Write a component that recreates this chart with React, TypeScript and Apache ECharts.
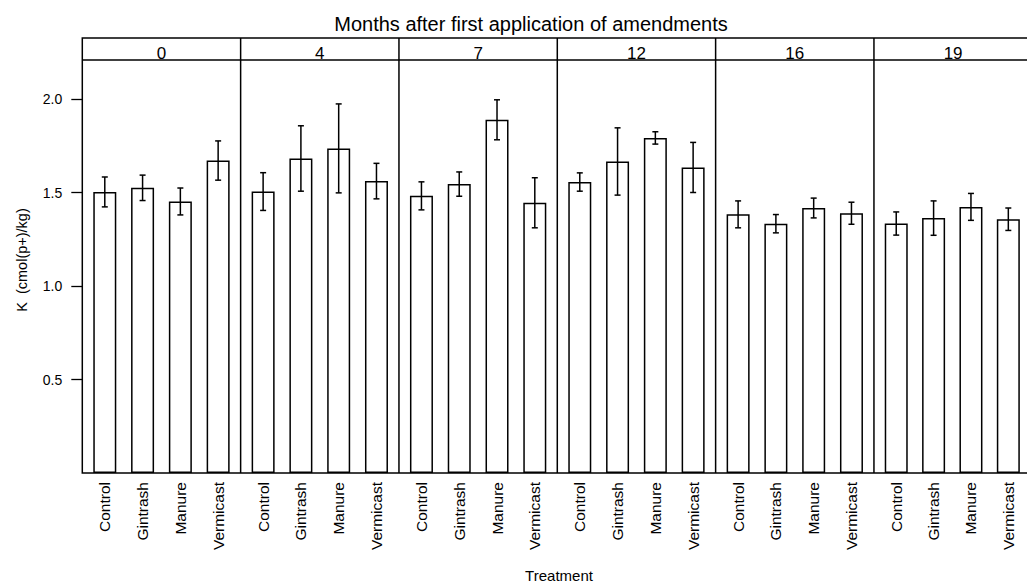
import React, { useEffect, useRef } from 'react';
import * as echarts from 'echarts';

// ---- data ----
const months = ['0', '4', '7', '12', '16', '19'];
const treatments = ['Control', 'Gintrash', 'Manure', 'Vermicast'];
// mean K (cmol(p+)/kg) per month panel, per treatment
const meanK0 = [1.504, 1.526, 1.453, 1.672];
const meanK4 = [1.506, 1.683, 1.737, 1.562];
const meanK7 = [1.483, 1.546, 1.890, 1.446];
const meanK12 = [1.557, 1.667, 1.793, 1.635];
const meanK16 = [1.384, 1.334, 1.418, 1.390];
const meanK19 = [1.335, 1.364, 1.424, 1.358];
// standard error (half-length of error bars)
const seK0 = [0.080, 0.068, 0.072, 0.105];
const seK4 = [0.101, 0.175, 0.238, 0.095];
const seK7 = [0.075, 0.065, 0.107, 0.134];
const seK12 = [0.049, 0.180, 0.033, 0.134];
const seK16 = [0.072, 0.049, 0.053, 0.059];
const seK19 = [0.062, 0.092, 0.072, 0.060];
const yTicks = [0.5, 1.0, 1.5, 2.0];
const yMax = 2.21;

const meansByMonth = [meanK0, meanK4, meanK7, meanK12, meanK16, meanK19];
const seByMonth = [seK0, seK4, seK7, seK12, seK16, seK19];

// ---- layout ----
const FRAME_LEFT = 82.3;
const PANEL_W = 158.33;
const FRAME_TOP = 38;
const STRIP_BOTTOM = 60;
const PLOT_BOTTOM = 473;
const INSET = 3.6;
const FONT = 'Liberation Sans, Arial, Helvetica, sans-serif';

export default function App() {
  const ref = useRef<HTMLDivElement>(null);

  useEffect(() => {
    if (!ref.current) return;
    const chart = echarts.init(ref.current, undefined, { renderer: 'svg' });

    const grids = months.map((_, i) => ({
      left: FRAME_LEFT + i * PANEL_W + INSET,
      width: PANEL_W - 2 * INSET,
      top: STRIP_BOTTOM,
      height: PLOT_BOTTOM - STRIP_BOTTOM,
      containLabel: false,
    }));

    const xAxes = months.map((_, i) => ({
      type: 'category',
      gridIndex: i,
      data: treatments,
      axisLine: { show: false },
      axisTick: { show: false },
      axisLabel: {
        rotate: 90,
        margin: 9,
        fontSize: 15.5,
        color: '#000',
        fontFamily: FONT,
        interval: 0,
      },
    }));

    const yAxes = months.map((_, i) => ({
      type: 'value',
      gridIndex: i,
      min: 0,
      max: yMax,
      show: i === 0,
      offset: INSET,
      axisLine: { show: false },
      splitLine: { show: false },
      axisTick: {
        show: i === 0,
        length: 11,
        customValues: yTicks,
        lineStyle: { color: '#000', width: 1.3 },
      },
      axisLabel: {
        show: i === 0,
        customValues: yTicks,
        formatter: (v: number) => v.toFixed(1),
        margin: 20,
        fontSize: 14,
        color: '#000',
        fontFamily: FONT,
      },
    }));

    const series: any[] = [];
    months.forEach((_, i) => {
      const means = meansByMonth[i];
      const ses = seByMonth[i];
      series.push({
        type: 'bar',
        xAxisIndex: i,
        yAxisIndex: i,
        data: means,
        barWidth: 23,
        itemStyle: { color: '#fff', borderColor: '#000', borderWidth: 1.5 },
        silent: true,
      });
      series.push({
        type: 'custom',
        xAxisIndex: i,
        yAxisIndex: i,
        data: means.map((m, j) => [j, m - ses[j], m + ses[j]]),
        encode: { x: 0, y: [1, 2] },
        z: 5,
        renderItem: (params: any, api: any) => {
          const x = api.value(0);
          const lo = api.coord([x, api.value(1)]);
          const hi = api.coord([x, api.value(2)]);
          const cw = 3;
          const style = { stroke: '#000', lineWidth: 1.5 };
          return {
            type: 'group',
            children: [
              { type: 'line', shape: { x1: lo[0], y1: lo[1], x2: hi[0], y2: hi[1] }, style },
              { type: 'line', shape: { x1: hi[0] - cw, y1: hi[1], x2: hi[0] + cw, y2: hi[1] }, style },
              { type: 'line', shape: { x1: lo[0] - cw, y1: lo[1], x2: lo[0] + cw, y2: lo[1] }, style },
            ],
          };
        },
      });
    });

    const frameW = months.length * PANEL_W;
    const lineStyle = { stroke: '#000', lineWidth: 1.5 };
    const graphics: any[] = [
      {
        type: 'rect',
        shape: { x: FRAME_LEFT, y: FRAME_TOP, width: frameW, height: PLOT_BOTTOM - FRAME_TOP },
        style: { fill: 'none', stroke: '#000', lineWidth: 1.5 },
        z: 10,
      },
      {
        type: 'line',
        shape: { x1: FRAME_LEFT, y1: STRIP_BOTTOM, x2: FRAME_LEFT + frameW, y2: STRIP_BOTTOM },
        style: lineStyle,
        z: 10,
      },
      {
        type: 'text',
        x: 531,
        y: 24,
        style: {
          text: 'Months after first application of amendments',
          fontSize: 20,
          fontFamily: FONT,
          fill: '#000',
          textAlign: 'center',
          textVerticalAlign: 'middle',
        },
      },
      {
        type: 'text',
        x: 22,
        y: 260,
        rotation: Math.PI / 2,
        style: {
          text: 'K  (cmol(p+)/kg)',
          fontSize: 14.5,
          fontFamily: FONT,
          fill: '#000',
          textAlign: 'center',
          textVerticalAlign: 'middle',
        },
      },
      {
        type: 'text',
        x: 559,
        y: 575,
        style: {
          text: 'Treatment',
          fontSize: 15,
          fontFamily: FONT,
          fill: '#000',
          textAlign: 'center',
          textVerticalAlign: 'middle',
        },
      },
    ];
    months.forEach((m, i) => {
      const left = FRAME_LEFT + i * PANEL_W;
      if (i > 0) {
        graphics.push({
          type: 'line',
          shape: { x1: left, y1: FRAME_TOP, x2: left, y2: PLOT_BOTTOM },
          style: lineStyle,
          z: 10,
        });
      }
      graphics.push({
        type: 'text',
        x: left + PANEL_W / 2,
        y: 53.5,
        style: {
          text: m,
          fontSize: 17,
          fontFamily: FONT,
          fill: '#000',
          textAlign: 'center',
          textVerticalAlign: 'middle',
        },
      });
    });

    chart.setOption({
      animation: false,
      backgroundColor: '#fff',
      grid: grids,
      xAxis: xAxes,
      yAxis: yAxes,
      series,
      graphic: graphics,
    });

    return () => chart.dispose();
  }, []);

  return (
    <div
      ref={ref}
      style={{ position: 'absolute', left: 0, top: 0, width: 1027, height: 582, background: '#fff' }}
    />
  );
}
